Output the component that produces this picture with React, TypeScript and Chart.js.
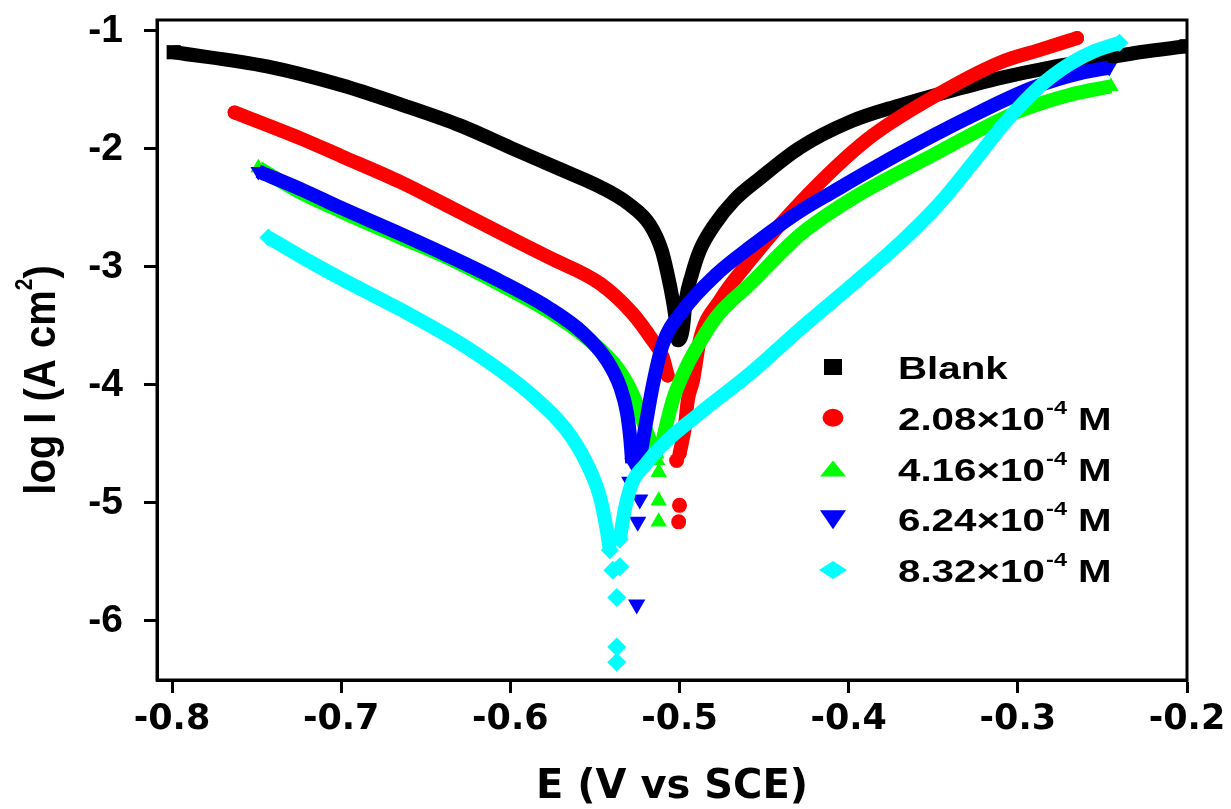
import React, { useEffect, useRef } from "react";
import { Chart, registerables } from "chart.js";

Chart.register(...registerables);

// ---- axis ticks ----
const xTicks = [-0.8, -0.7, -0.6, -0.5, -0.4, -0.3, -0.2];
const yTicks = [-6, -5, -4, -3, -2, -1];

// ---- series meta ----
const seriesNames = ["Blank", "2.08×10-4 M", "4.16×10-4 M", "6.24×10-4 M", "8.32×10-4 M"];
const legendMain = ["Blank", "2.08×10", "4.16×10", "6.24×10", "8.32×10"];
const legendSup = ["", "-4", "-4", "-4", "-4"];
const legendSuffix = ["", " M", " M", " M", " M"];
const seriesColors = ["#000000", "#ff0000", "#00ff00", "#0000ff", "#00ffff"];

// ---- data: [E (V vs SCE), log I] ----
const blankBand = [
  [-0.799, -1.18], [-0.7439, -1.30], [-0.6996, -1.46], [-0.6653, -1.62], [-0.6298, -1.80],
  [-0.5997, -1.99], [-0.5708, -2.17], [-0.5471, -2.32], [-0.5306, -2.46], [-0.5176, -2.64],
  [-0.5105, -2.86], [-0.5069, -3.07], [-0.504, -3.28], [-0.5022, -3.45], [-0.501, -3.62],
  [-0.4981, -3.53], [-0.4963, -3.28], [-0.4928, -3.07], [-0.488, -2.86], [-0.4792, -2.64],
  [-0.4674, -2.43], [-0.4526, -2.25], [-0.429, -1.99], [-0.3994, -1.77], [-0.3699, -1.63],
  [-0.3403, -1.51], [-0.3108, -1.4], [-0.2812, -1.31], [-0.2517, -1.24], [-0.2281, -1.18],
  [-0.2003, -1.13],
];

const c208Cathodic = [
  [-0.763, -1.69], [-0.724, -1.91], [-0.7, -2.06], [-0.665, -2.28], [-0.636, -2.49],
  [-0.606, -2.71], [-0.577, -2.92], [-0.547, -3.14], [-0.528, -3.39], [-0.516, -3.62],
  [-0.51, -3.76], [-0.507, -3.92],
];
const c208Anodic = [
  [-0.4999, -4.58], [-0.4969, -4.36], [-0.4951, -4.13], [-0.492, -3.96], [-0.488, -3.62],
  [-0.476, -3.28], [-0.458, -2.94], [-0.429, -2.46], [-0.389, -1.92], [-0.35, -1.56],
  [-0.311, -1.27], [-0.287, -1.16], [-0.265, -1.06],
];
const c208Tip = [[-0.5017, -4.64], [-0.5, -5.02], [-0.5005, -5.16]];

const c416Cathodic = [
  [-0.749, -2.16], [-0.724, -2.37], [-0.7, -2.53], [-0.665, -2.75], [-0.636, -2.93],
  [-0.606, -3.15], [-0.577, -3.38], [-0.555, -3.6], [-0.537, -3.85], [-0.528, -4.07],
  [-0.519, -4.41], [-0.513, -4.64],
];
const c416Anodic = [
  [-0.5105, -4.5], [-0.504, -4.13], [-0.496, -3.85], [-0.488, -3.64], [-0.478, -3.42],
  [-0.458, -3.14], [-0.429, -2.73], [-0.399, -2.43], [-0.35, -2.05], [-0.301, -1.69],
  [-0.269, -1.54], [-0.245, -1.47],
];
const c416Tip = [[-0.5123, -4.74], [-0.5123, -4.98], [-0.5123, -5.16]];

const c624Cathodic = [
  [-0.749, -2.19], [-0.724, -2.34], [-0.7, -2.5], [-0.665, -2.72], [-0.636, -2.91],
  [-0.606, -3.12], [-0.577, -3.35], [-0.557, -3.56], [-0.543, -3.79], [-0.535, -4.02],
  [-0.531, -4.24], [-0.529, -4.47], [-0.528, -4.66],
];
const c624Anodic = [
  [-0.5247, -4.72], [-0.5205, -4.38], [-0.516, -4.02], [-0.51, -3.66], [-0.498, -3.37],
  [-0.478, -3.06], [-0.458, -2.83], [-0.429, -2.53], [-0.409, -2.36], [-0.37, -2.04],
  [-0.33, -1.74], [-0.291, -1.48], [-0.261, -1.35], [-0.246, -1.31],
];
const c624Tip = [[-0.5294, -4.82], [-0.5235, -4.97], [-0.5247, -5.16], [-0.5253, -5.86]];

const c832Cathodic = [
  [-0.743, -2.75], [-0.724, -2.91], [-0.7, -3.10], [-0.665, -3.36], [-0.626, -3.68],
  [-0.587, -4.09], [-0.567, -4.38], [-0.555, -4.66], [-0.547, -4.95], [-0.543, -5.23],
  [-0.5412, -5.4],
];
const c832Anodic = [
  [-0.5353, -5.31], [-0.5324, -5.06], [-0.528, -4.83], [-0.5205, -4.68], [-0.5117, -4.53],
  [-0.488, -4.24], [-0.458, -3.9], [-0.429, -3.53], [-0.3994, -3.17], [-0.3699, -2.80],
  [-0.3462, -2.46], [-0.3267, -2.12], [-0.3066, -1.76], [-0.2871, -1.47], [-0.2694, -1.28],
  [-0.2546, -1.17], [-0.2399, -1.1],
];
const c832Tip = [
  [-0.5394, -5.57], [-0.5353, -5.54], [-0.5371, -5.8], [-0.5371, -6.22], [-0.5371, -6.35],
];

const toPts = (arr: number[][]) => arr.map(([x, y]) => ({ x, y }));

function bandSet(label: string, arr: number[][], color: string, style: string, radius: number,
  order: number, rotation = 0, cap = "butt") {
  const n = arr.length;
  return {
    label,
    data: toPts(arr),
    showLine: true,
    borderColor: color,
    backgroundColor: color,
    borderWidth: 14,
    borderJoinStyle: "round",
    borderCapStyle: cap,
    cubicInterpolationMode: "monotone",
    pointStyle: style,
    rotation,
    pointRadius: (c: any) => (c.dataIndex === 0 || c.dataIndex === n - 1 ? radius : 0),
    pointBorderWidth: 0,
    pointHoverRadius: 0,
    order,
    clip: 0,
  };
}

function tipSet(label: string, arr: number[][], color: string, style: string, radius: number,
  order: number, rotation = 0) {
  return {
    label,
    data: toPts(arr),
    showLine: false,
    borderColor: color,
    backgroundColor: color,
    pointStyle: style,
    rotation,
    pointRadius: radius,
    pointBorderWidth: 0,
    pointHoverRadius: 0,
    order,
    clip: 0,
  };
}

function drawLegendMarker(ctx: CanvasRenderingContext2D, i: number, cx: number, cy: number) {
  ctx.fillStyle = seriesColors[i];
  ctx.beginPath();
  if (i === 0) {
    ctx.rect(cx - 9, cy - 8, 18, 16);
  } else if (i === 1) {
    ctx.ellipse(cx, cy, 10.5, 9, 0, 0, Math.PI * 2);
  } else if (i === 2) {
    ctx.moveTo(cx - 13, cy + 8);
    ctx.lineTo(cx + 13, cy + 8);
    ctx.lineTo(cx, cy - 8);
    ctx.closePath();
  } else if (i === 3) {
    ctx.moveTo(cx - 13, cy - 9);
    ctx.lineTo(cx + 13, cy - 9);
    ctx.lineTo(cx, cy + 10);
    ctx.closePath();
  } else {
    ctx.moveTo(cx, cy - 9);
    ctx.lineTo(cx + 14, cy);
    ctx.lineTo(cx, cy + 9);
    ctx.lineTo(cx - 14, cy);
    ctx.closePath();
  }
  ctx.fill();
}

const overlayPlugin = {
  id: "tafelOverlay",
  afterDatasetsDraw(chart: any) {
    const ctx: CanvasRenderingContext2D = chart.ctx;
    ctx.save();
    for (let i = 0; i < legendMain.length; i++) {
      const base = 379 + i * 50.75;
      drawLegendMarker(ctx, i, 833, base - 12);
      ctx.save();
      ctx.translate(898, base);
      ctx.scale(1.3, 1);
      ctx.fillStyle = "#000";
      ctx.textAlign = "left";
      ctx.textBaseline = "alphabetic";
      ctx.font = 'bold 31px "Liberation Sans", Arial, sans-serif';
      ctx.fillText(legendMain[i], 0, 0);
      let w = ctx.measureText(legendMain[i]).width;
      if (legendSup[i]) {
        ctx.font = 'bold 18px "Liberation Sans", Arial, sans-serif';
        ctx.fillText(legendSup[i], w + 1, -16);
        w += 1 + ctx.measureText(legendSup[i]).width;
        ctx.font = 'bold 31px "Liberation Sans", Arial, sans-serif';
        ctx.fillText(legendSuffix[i], w, 0);
      }
      ctx.restore();
    }
    ctx.restore();
  },
  afterDraw(chart: any) {
    const ctx: CanvasRenderingContext2D = chart.ctx;
    const a = chart.chartArea;
    ctx.save();
    ctx.strokeStyle = "#000";
    ctx.lineWidth = 3;
    ctx.strokeRect(a.left, a.top, a.right - a.left, a.bottom - a.top);
    // y axis title
    ctx.translate(55, 380);
    ctx.rotate(-Math.PI / 2);
    ctx.scale(1, 1.1);
    ctx.fillStyle = "#000";
    ctx.textAlign = "left";
    ctx.textBaseline = "alphabetic";
    const mainFont = 'bold 40px "Liberation Sans", Arial, sans-serif';
    const supFont = 'bold 21px "Liberation Sans", Arial, sans-serif';
    const t1 = "log I (A cm";
    const t2 = "2";
    const t3 = ")";
    ctx.font = mainFont;
    const w1 = ctx.measureText(t1).width;
    const w3 = ctx.measureText(t3).width;
    ctx.font = supFont;
    const w2 = ctx.measureText(t2).width;
    const x0 = -(w1 + w2 + w3) / 2;
    ctx.font = mainFont;
    ctx.fillText(t1, x0, 0);
    ctx.font = supFont;
    ctx.fillText(t2, x0 + w1, -21);
    ctx.font = mainFont;
    ctx.fillText(t3, x0 + w1 + w2, 0);
    ctx.restore();
  },
};

export default function App() {
  const canvasRef = useRef<HTMLCanvasElement | null>(null);

  useEffect(() => {
    const canvas = canvasRef.current;
    if (!canvas) return;
    const datasets: any[] = [
      bandSet(seriesNames[0], blankBand, seriesColors[0], "rect", 10, 50),
      bandSet(seriesNames[1], c208Cathodic, seriesColors[1], "circle", 7, 40, 0, "round"),
      bandSet(seriesNames[1], c208Anodic, seriesColors[1], "circle", 7, 40, 0, "round"),
      tipSet(seriesNames[1], c208Tip, seriesColors[1], "circle", 7.5, 40),
      bandSet(seriesNames[2], c416Cathodic, seriesColors[2], "triangle", 9, 30),
      bandSet(seriesNames[2], c416Anodic, seriesColors[2], "triangle", 9, 30),
      tipSet(seriesNames[2], c416Tip, seriesColors[2], "triangle", 9.5, 30),
      bandSet(seriesNames[3], c624Cathodic, seriesColors[3], "triangle", 9, 20, 180),
      bandSet(seriesNames[3], c624Anodic, seriesColors[3], "triangle", 9, 20, 180),
      tipSet(seriesNames[3], c624Tip, seriesColors[3], "triangle", 10, 20, 180),
      bandSet(seriesNames[4], c832Cathodic, seriesColors[4], "rectRot", 9, 10),
      bandSet(seriesNames[4], c832Anodic, seriesColors[4], "rectRot", 9, 10),
      tipSet(seriesNames[4], c832Tip, seriesColors[4], "rectRot", 9.5, 10),
    ];

    const chart = new Chart(canvas, {
      type: "scatter",
      data: { datasets },
      plugins: [overlayPlugin],
      options: {
        animation: false,
        responsive: true,
        maintainAspectRatio: false,
        events: [],
        layout: { padding: { left: 0, right: 44, top: 20, bottom: 0 } },
        plugins: {
          legend: { display: false },
          tooltip: { enabled: false },
        },
        scales: {
          x: {
            type: "linear",
            min: -0.80887,
            max: -0.2,
            afterFit: (s: any) => { s.height = 129; s.paddingLeft = 0; s.paddingRight = 0; },
            afterBuildTicks: (s: any) => { s.ticks = xTicks.map((v) => ({ value: v })); },
            border: { display: true, color: "#000", width: 3 },
            grid: { display: true, drawOnChartArea: false, drawTicks: true, tickLength: 13, tickWidth: 3, tickColor: "#000" },
            ticks: {
              color: "#000",
              padding: 6,
              maxRotation: 0,
              font: { family: "'DejaVu Sans'", weight: "bold", size: 35 },
              callback: (v: any) => Number(v).toFixed(1),
            },
            title: {
              display: true,
              text: "E (V vs SCE)",
              color: "#000",
              font: { family: "'DejaVu Sans'", weight: "bold", size: 40, lineHeight: 1 },
              padding: { top: 0, bottom: 1 },
            },
          },
          y: {
            type: "linear",
            min: -6.5,
            max: -0.907,
            afterFit: (s: any) => { s.width = 157; s.paddingTop = 0; s.paddingBottom = 0; },
            afterBuildTicks: (s: any) => { s.ticks = yTicks.map((v) => ({ value: v })); },
            border: { display: true, color: "#000", width: 3 },
            grid: { display: true, drawOnChartArea: false, drawTicks: true, tickLength: 13, tickWidth: 3, tickColor: "#000" },
            ticks: {
              color: "#000",
              padding: 21,
              font: { family: "'Liberation Sans', Arial", weight: "bold", size: 39 },
              callback: (v: any) => String(Math.round(Number(v))),
            },
          },
        },
      } as any,
    } as any);

    return () => chart.destroy();
  }, []);

  return (
    <div style={{ position: "absolute", left: 0, top: 0, width: 1231, height: 809, background: "#fff" }}>
      <canvas ref={canvasRef} style={{ display: "block" }} />
    </div>
  );
}
